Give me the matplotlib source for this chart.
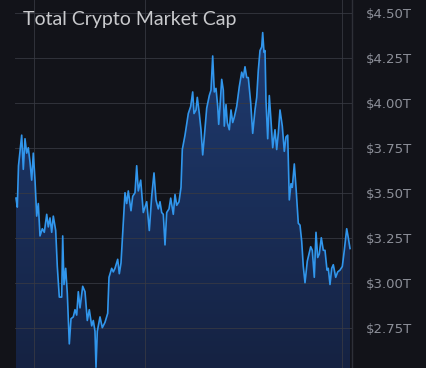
import numpy as np
import matplotlib
matplotlib.use("Agg")
import matplotlib.pyplot as plt
from matplotlib.patches import Polygon

# days since start of the window and total market cap (trillions of $)
days = [1.0, 2.3, 3.5, 6.7, 8.3, 10.0, 11.7, 13.3, 15.0, 16.7, 18.3, 20.0, 21.7,
        23.3, 25.0, 27.3, 29.3, 31.7, 33.3, 35.0, 36.7, 38.3, 40.7, 42.3, 44.3,
        46.7, 47.7, 49.0, 50.7, 52.3, 54.3, 56.0, 58.3, 60.0, 61.7, 63.3, 65.0,
        67.7, 70.0, 72.3, 74.3, 76.7, 78.3, 80.0, 81.0, 82.3, 85.0, 87.3, 90.0,
        92.7, 94.0, 96.7, 98.3, 100.0, 102.7, 104.3, 106.0, 108.3, 110.0, 111.7,
        113.3, 116.0, 117.7, 120.0, 121.7, 123.3, 125.7, 128.3, 131.7, 134.3,
        136.7, 139.0, 141.0, 143.3, 145.0, 146.7, 148.3, 150.0, 151.7, 154.0,
        155.7, 158.3, 160.0, 161.7, 164.0, 166.0, 167.3, 170.0, 173.3, 175.7,
        177.7, 179.0, 181.0, 182.3, 184.3, 186.0, 187.7, 189.3, 191.7, 194.3,
        196.0, 197.7, 199.3, 201.0, 202.7, 203.7, 205.0, 206.7, 208.3, 209.3,
        211.0, 212.3, 214.3, 216.0, 217.7, 219.3, 221.7, 224.3, 226.7, 228.3,
        230.0, 231.7, 233.3, 235.7, 237.7, 240.0, 241.7, 243.3, 245.0, 246.7,
        247.7, 249.0, 250.0, 251.0, 252.7, 254.3, 256.0, 257.7, 260.0, 261.7,
        263.3, 265.0, 267.3, 269.3, 271.0, 272.7, 274.3, 276.0, 277.3, 279.3,
        281.0, 283.3, 285.0, 286.7, 288.3, 290.0, 292.3, 294.0, 295.7, 297.3,
        299.3, 301.0, 302.7, 304.3, 306.3, 308.3, 310.0, 312.0, 313.3, 315.0,
        316.7, 318.3, 320.7, 322.7, 325.0, 327.3, 329.3, 331.7, 333.3, 335.0]
cap = [3.47, 3.42, 3.65, 3.82, 3.63, 3.80, 3.72, 3.75, 3.67, 3.57, 3.72, 3.57,
       3.37, 3.44, 3.26, 3.30, 3.28, 3.38, 3.31, 3.36, 3.28, 3.37, 3.29, 3.09,
       2.92, 2.92, 3.26, 2.99, 3.08, 2.94, 2.66, 2.80, 2.81, 2.85, 2.82, 2.95,
       2.86, 2.98, 2.95, 2.79, 2.85, 2.76, 2.79, 2.73, 2.53, 2.73, 2.81, 2.75,
       2.78, 2.83, 3.03, 3.08, 3.06, 3.08, 3.13, 3.05, 3.11, 3.33, 3.50, 3.44,
       3.51, 3.40, 3.48, 3.50, 3.65, 3.51, 3.57, 3.39, 3.45, 3.29, 3.48, 3.61,
       3.46, 3.41, 3.45, 3.39, 3.38, 3.21, 3.39, 3.41, 3.47, 3.38, 3.49, 3.43,
       3.45, 3.53, 3.74, 3.82, 3.94, 3.98, 4.06, 3.94, 3.96, 4.03, 3.94, 3.85,
       3.71, 3.81, 3.97, 4.04, 4.07, 4.26, 4.06, 4.08, 3.98, 3.88, 3.98, 4.13,
       4.07, 3.87, 3.99, 3.89, 3.85, 3.96, 3.89, 3.92, 3.98, 4.09, 4.17, 4.14,
       4.20, 4.14, 4.14, 4.00, 3.83, 3.96, 4.03, 4.18, 4.29, 4.31, 4.39, 4.28,
       4.29, 4.01, 3.80, 4.04, 3.90, 3.75, 3.85, 3.74, 3.83, 3.96, 3.87, 3.73,
       3.81, 3.82, 3.46, 3.55, 3.53, 3.66, 3.53, 3.33, 3.32, 3.23, 3.09, 3.00,
       3.12, 3.16, 3.20, 3.18, 3.03, 3.28, 3.14, 3.16, 3.25, 3.18, 3.18, 3.07,
       3.08, 2.99, 3.08, 3.10, 3.03, 3.06, 3.07, 3.09, 3.18, 3.30, 3.25, 3.19]
ticks = [2.75, 3.00, 3.25, 3.50, 3.75, 4.00, 4.25, 4.50]
tick_labels = ["$%.2fT" % t for t in ticks]
title = "Total Crypto Market Cap"

n = min(len(days), len(cap))
days = np.array(days[:n])
cap = np.array(cap[:n])

bg = "#121319"
fig = plt.figure(figsize=(4.26, 3.68), dpi=100, facecolor=bg)
ax = fig.add_axes([15 / 426, 0, 337 / 426, 1])
ax.set_facecolor(bg)

ymin, ymax = 2.526, 4.571
ax.set_xlim(0, 337)
ax.set_ylim(ymin, ymax)

# gradient fill under the line
grad = np.linspace(0, 1, 256).reshape(-1, 1)
cmap = matplotlib.colors.LinearSegmentedColormap.from_list(
    "fill", ["#152242", "#1f3b70"])
img = ax.imshow(grad, extent=[0, 337, ymin, cap.max()], origin="lower",
                aspect="auto", cmap=cmap, zorder=1)
poly = Polygon(np.column_stack([np.r_[days[0], days, days[-1]],
                                np.r_[ymin, cap, ymin]]),
               closed=True, facecolor="none", edgecolor="none")
ax.add_patch(poly)
img.set_clip_path(poly)

ax.plot(days, cap, color="#3196ec", lw=1.2, zorder=3)

# grid
ax.set_yticks(ticks)
ax.set_yticklabels(tick_labels)
ax.set_xticks([19, 130, 327])
ax.set_xticklabels([])
ax.grid(True, color="#383a43", lw=0.7, alpha=0.8, zorder=2)
ax.set_axisbelow(False)
ax.yaxis.tick_right()
ax.tick_params(axis="y", length=0, pad=10, labelsize=9.5, labelcolor="#8d9099")
ax.tick_params(axis="x", length=0)
for s in ["top", "bottom", "left"]:
    ax.spines[s].set_visible(False)
ax.spines["right"].set_color("#2e3038")
ax.spines["right"].set_linewidth(1)

fig.text(23 / 426, 1 - 19 / 368, title, color="#c9cacd", fontsize=14,
         family="Lato", va="center", ha="left")

fig.savefig("out.png", dpi=100, facecolor=bg)
